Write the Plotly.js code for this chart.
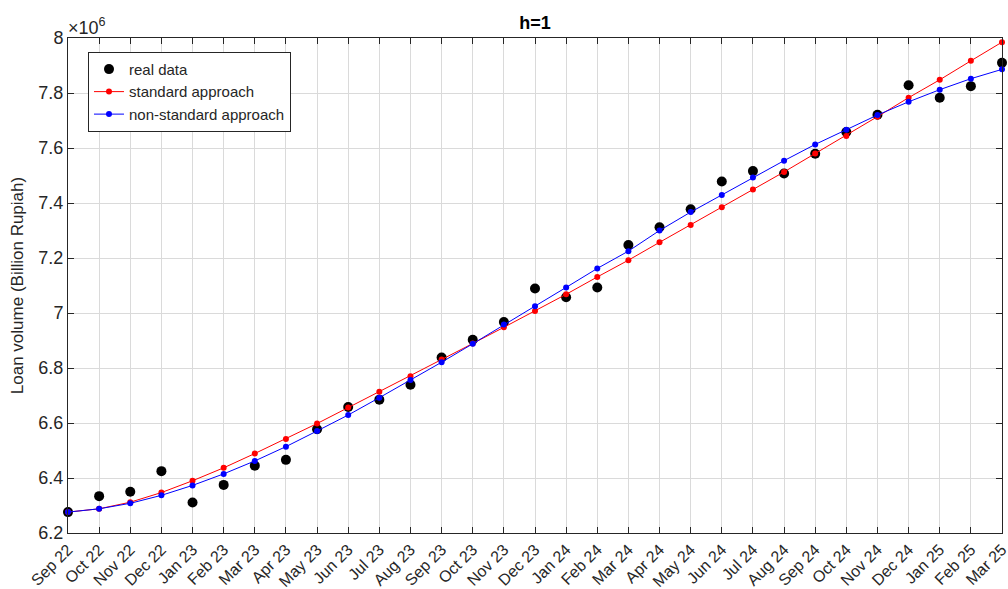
<!DOCTYPE html>
<html>
<head>
<meta charset="utf-8">
<script src="https://cdn.plot.ly/plotly-3.0.1.min.js"></script>
<style>html,body{margin:0;padding:0;background:#fff;}#chart{width:1008px;height:589px;}</style>
</head>
<body>
<div id="chart"></div>
<script>
// Values in units of 10^6 Billion Rupiah
const months = ["Sep 22","Oct 22","Nov 22","Dec 22","Jan 23","Feb 23","Mar 23","Apr 23","May 23","Jun 23",
  "Jul 23","Aug 23","Sep 23","Oct 23","Nov 23","Dec 23","Jan 24","Feb 24","Mar 24","Apr 24",
  "May 24","Jun 24","Jul 24","Aug 24","Sep 24","Oct 24","Nov 24","Dec 24","Jan 25","Feb 25","Mar 25"];
const realData = [6.276,6.334,6.350,6.425,6.311,6.375,6.445,6.466,6.577,6.658,
  6.685,6.739,6.838,6.903,6.967,7.089,7.057,7.093,7.247,7.312,
  7.377,7.478,7.516,7.507,7.579,7.658,7.721,7.828,7.783,7.825,7.910];
const standardApproach = [6.276,6.288,6.312,6.347,6.390,6.437,6.489,6.542,6.598,6.656,
  6.714,6.770,6.831,6.889,6.948,7.007,7.068,7.131,7.192,7.257,
  7.320,7.385,7.449,7.513,7.580,7.644,7.714,7.783,7.848,7.917,7.985];
const nonStandardApproach = [6.276,6.288,6.308,6.337,6.373,6.415,6.462,6.514,6.571,6.629,
  6.692,6.756,6.821,6.888,6.958,7.025,7.093,7.162,7.225,7.300,
  7.367,7.429,7.493,7.554,7.613,7.666,7.720,7.768,7.812,7.852,7.886];
const yTicks = [6.2,6.4,6.6,6.8,7,7.2,7.4,7.6,7.8,8];

const FONT = "Liberation Sans, Arial, Helvetica, sans-serif";
const TXT = "#262626";

const traces = [
  {x: months, y: realData, name: "real data", type: "scatter", mode: "markers",
   marker: {color: "#000", size: 10, line: {color: "#000", width: 0}}, cliponaxis: false},
  {x: months, y: standardApproach, name: "standard approach", type: "scatter", mode: "lines+markers",
   line: {color: "#ff0000", width: 1}, marker: {color: "#ff0000", size: 6}, cliponaxis: false},
  {x: months, y: nonStandardApproach, name: "non-standard approach", type: "scatter", mode: "lines+markers",
   line: {color: "#0000ff", width: 1}, marker: {color: "#0000ff", size: 6}, cliponaxis: false}
];

const layout = {
  width: 1008, height: 589,
  margin: {l: 68, r: 6, t: 38, b: 56, pad: 0},
  paper_bgcolor: "#fff", plot_bgcolor: "#fff",
  font: {family: FONT, color: TXT, size: 16},
  title: {text: "<b>h=1</b>", x: 0.5, xref: "paper", xanchor: "center", y: 0.961, yref: "container", yanchor: "middle",
          font: {family: FONT, size: 18, color: "#000"}},
  showlegend: true,
  legend: {x: 0.0214, y: 0.972, xanchor: "left", yanchor: "top",
           bgcolor: "#fff", bordercolor: "#262626", borderwidth: 1,
           font: {family: FONT, size: 15, color: TXT}, tracegroupgap: 0, itemwidth: 30},
  xaxis: {type: "category", range: [0, 30], tickangle: -45,
          showgrid: true, gridcolor: "#dadada", gridwidth: 1,
          showline: true, linecolor: TXT, linewidth: 1, mirror: "ticks",
          ticks: "inside", ticklen: 6, tickcolor: TXT,
          tickfont: {family: FONT, size: 16, color: TXT}, zeroline: false, automargin: false},
  yaxis: {range: [6.2, 8], tickvals: yTicks,
          showgrid: true, gridcolor: "#dadada", gridwidth: 1,
          showline: true, linecolor: TXT, linewidth: 1, mirror: "ticks",
          ticks: "inside", ticklen: 6, tickcolor: TXT,
          tickfont: {family: FONT, size: 18, color: TXT}, zeroline: false, automargin: false,
          title: {text: "Loan volume (Billion Rupiah)", font: {family: FONT, size: 17, color: TXT}, standoff: 10}},
  annotations: [
    {text: "\u00d710<sup>6</sup>", xref: "paper", yref: "paper", x: 0, y: 1, xanchor: "left", yanchor: "bottom",
     showarrow: false, font: {family: FONT, size: 18, color: TXT}, xshift: -2, yshift: -2}
  ]
};

Plotly.newPlot("chart", traces, layout, {displayModeBar: false, staticPlot: true});
</script>
</body>
</html>
